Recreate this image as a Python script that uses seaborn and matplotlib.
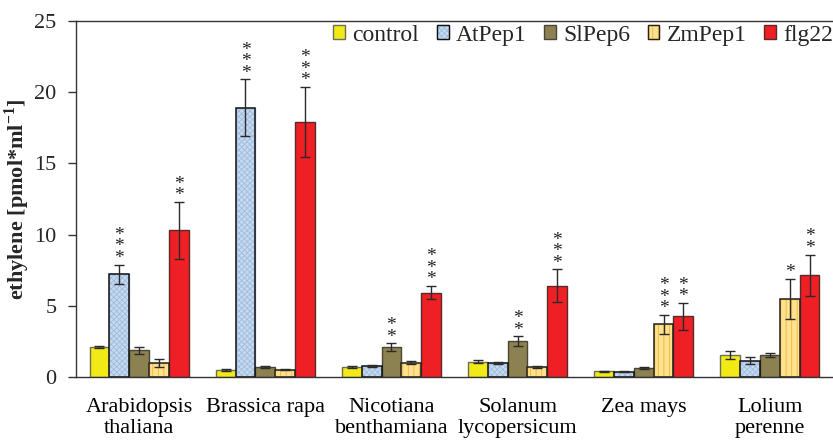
import numpy as np
import pandas as pd
import matplotlib
matplotlib.use("Agg")
import matplotlib.pyplot as plt
import seaborn as sns
from matplotlib.patches import Rectangle, Patch
from matplotlib.legend_handler import HandlerTuple

# ---------------- data ----------------
species = ["Arabidopsis\nthaliana", "Brassica rapa", "Nicotiana\nbenthamiana",
           "Solanum\nlycopersicum", "Zea mays", "Lolium\nperenne"]
treatments = ["control", "AtPep1", "SlPep6", "ZmPep1", "flg22"]

control = [2.10, 0.50, 0.70, 1.08, 0.40, 1.53]
control_err = [0.08, 0.05, 0.05, 0.13, 0.03, 0.29]
atpep1 = [7.20, 18.90, 0.77, 1.00, 0.37, 1.14]
atpep1_err = [0.70, 2.00, 0.07, 0.08, 0.04, 0.25]
slpep6 = [1.87, 0.68, 2.08, 2.52, 0.61, 1.54]
slpep6_err = [0.25, 0.06, 0.28, 0.33, 0.08, 0.14]
zmpep1 = [0.98, 0.51, 1.00, 0.68, 3.69, 5.49]
zmpep1_err = [0.25, 0.05, 0.12, 0.06, 0.65, 1.40]
flg22 = [10.30, 17.90, 5.93, 6.40, 4.25, 7.15]
flg22_err = [2.00, 2.45, 0.45, 1.15, 0.93, 1.45]

control_sig = ["", "", "", "", "", ""]
atpep1_sig = ["***", "***", "", "", "", ""]
slpep6_sig = ["", "", "**", "**", "", ""]
zmpep1_sig = ["", "", "", "", "***", "*"]
flg22_sig = ["**", "***", "***", "***", "**", "**"]

yticks = [0, 5, 10, 15, 20, 25]
ylabel_text = "ethylene [pmol*ml$^{-1}$]"

values = [control, atpep1, slpep6, zmpep1, flg22]
errors = [control_err, atpep1_err, slpep6_err, zmpep1_err, flg22_err]
sigs = [control_sig, atpep1_sig, slpep6_sig, zmpep1_sig, flg22_sig]

# ---------------- style ----------------
face_colors = ["#F2EA17", "#C6DAEE", "#8C8150", "#FFE28E", "#EE1F25"]
edge_colors = ["#6E6E50", "#111111", "#4A4536", "#222222", "#5A2A2A"]
hatches = [None, "xxxxxx", None, "|||", None]
hatch_colors = [None, "#9FBCE0", None, "#F0B440", None]

sns.set_theme(style="white")
plt.rcParams["font.family"] = ["Liberation Serif", "DejaVu Serif"]
plt.rcParams["mathtext.fontset"] = "custom"
plt.rcParams["mathtext.rm"] = "Liberation Serif:bold"
plt.rcParams["hatch.linewidth"] = 0.6

df = pd.DataFrame({
    "species": np.tile(species, len(treatments)),
    "treatment": np.repeat(treatments, len(species)),
    "value": np.concatenate([np.asarray(v, float) for v in values]),
})

fig = plt.figure(figsize=(8.33, 4.41), dpi=100)
ax = fig.add_axes([76 / 833, 1 - 377 / 441, 1 - 76 / 833, (377 - 21) / 441])

sns.barplot(data=df, x="species", y="value", hue="treatment", order=species,
            hue_order=treatments, palette=dict(zip(treatments, face_colors)),
            width=0.785, gap=0, errorbar=None, saturation=1, linewidth=1,
            legend=False, ax=ax)

bar_containers = list(ax.containers)
legend_handles = []
for i, cont in enumerate(bar_containers):
    for p in cont.patches:
        p.set_linewidth(1)
        if hatches[i]:
            p.set_hatch(hatches[i])
            p.set_edgecolor(hatch_colors[i])
            ax.add_patch(Rectangle((p.get_x(), p.get_y()), p.get_width(), p.get_height(),
                                   fill=False, edgecolor=edge_colors[i], linewidth=1.1,
                                   zorder=p.get_zorder() + 0.1))
        else:
            p.set_edgecolor(edge_colors[i])
    xs = [p.get_x() + p.get_width() / 2 for p in cont.patches]
    ax.errorbar(xs, values[i], yerr=errors[i], fmt="none", ecolor="#2a2a2a",
                elinewidth=1, capsize=3.8, capthick=1, zorder=6)
    for x, v, e, s in zip(xs, values[i], errors[i], sigs[i]):
        if s:
            ax.annotate("\n".join(s), (x, v + e), xytext=(0, -1.6), textcoords="offset points",
                        ha="center", va="bottom", fontsize=14, color="#222222",
                        linespacing=0.58, family="Liberation Serif")
    if hatches[i]:
        h = (Patch(facecolor=face_colors[i], edgecolor=hatch_colors[i], hatch=hatches[i], linewidth=1),
             Patch(facecolor="none", edgecolor=edge_colors[i], linewidth=1))
    else:
        h = Patch(facecolor=face_colors[i], edgecolor=edge_colors[i], linewidth=1)
    legend_handles.append(h)

ax.legend(legend_handles, treatments, loc="upper right", bbox_to_anchor=(1.0, 0.99),
          ncol=5, frameon=False, fontsize=17, handlelength=0.5, handleheight=0.5,
          handletextpad=0.3, columnspacing=0.75, borderaxespad=0, borderpad=0,
          handler_map={tuple: HandlerTuple(ndivide=1)})

ax.set_ylim(0, 25)
ax.set_xlim(-0.5, -0.5 + 757 / 127.0)
ax.set_yticks(yticks)
ax.set_yticklabels([str(t) for t in yticks], fontsize=16)
ax.set_xticks(range(len(species)))
ax.set_xticklabels(species, fontsize=16, linespacing=1.15)
ax.set_xticks(np.arange(-0.5, len(species), 1.0), minor=True)
ax.tick_params(axis="x", which="major", length=0, pad=15, colors="black")
ax.tick_params(axis="x", which="minor", length=4.5, width=1, direction="out", color="#333333")
ax.tick_params(axis="y", length=6, width=1, direction="out", color="#333333", pad=8, left=True)
ax.set_xlabel("")
ax.set_ylabel(ylabel_text, fontsize=16, fontweight="bold", labelpad=2)

for side in ["left", "bottom", "top"]:
    ax.spines[side].set_visible(True)
    ax.spines[side].set_color("#333333")
    ax.spines[side].set_linewidth(1)
ax.spines["right"].set_visible(False)

fig.savefig("out.png", dpi=100)
